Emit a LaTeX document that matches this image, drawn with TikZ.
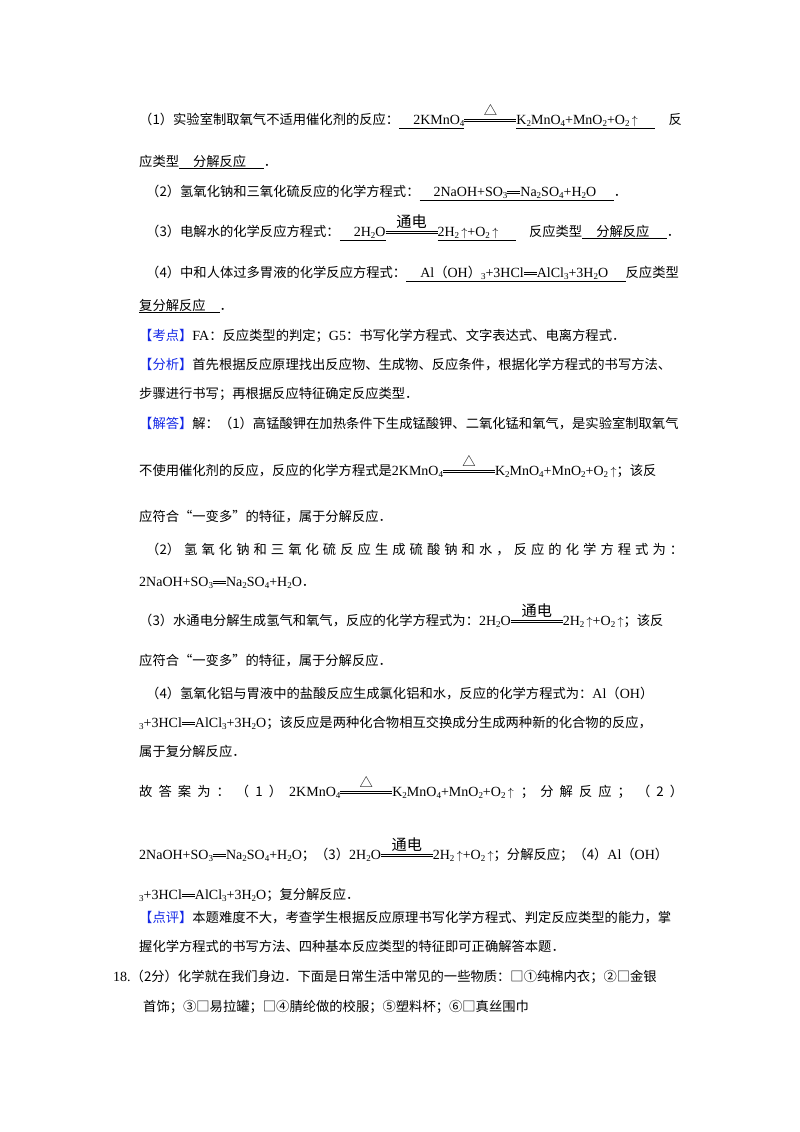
\documentclass[tikz,border=0pt]{standalone}
\usepackage{fontspec}
\setmainfont{Liberation Serif}
\newfontfamily\cjk{Noto Sans CJK SC}[Scale=0.95]
\XeTeXlinebreaklocale "zh"
\XeTeXlinebreakskip=0pt plus 2pt
\definecolor{kblue}{RGB}{20,40,230}
\newcommand\zh[1]{{\cjk #1}}
\newcommand\sbs[1]{\raisebox{-2.5pt}{\fontsize{9}{9}\selectfont #1}}
\newcommand\upar{\,\raisebox{0pt}{\fontsize{12}{12}\selectfont$\uparrow$}}
\newcommand\cnd[2]{\makebox[#2][l]{\rlap{\raisebox{2.2pt}{\rule{#2}{0.6pt}}}\rlap{\raisebox{4.6pt}{\rule{#2}{0.6pt}}}\raisebox{9pt}{\makebox[#2]{#1}}}}
\newcommand\eqs{\rlap{\raisebox{2.2pt}{\rule{13pt}{0.6pt}}}\raisebox{4.6pt}{\rule{13pt}{0.6pt}}}
\newcommand\tri{\zh{△}}
\newcommand\td{\zh{\fontsize{16}{16}\selectfont 通电}}
\newcommand\ans[1]{\underline{\hbox{\quad #1\quad\ }}}
\newcommand\kw[1]{\textcolor{kblue}{\zh{【#1】}}}
\tikzset{ln/.style={anchor=base west,inner sep=0pt,font=\fontsize{14}{14}\selectfont}}
\begin{document}
\begin{tikzpicture}[x=1pt,y=-1pt]
\useasboundingbox (0,0) rectangle (800,1132);
\node[ln] (l1) at (139,124) {\zh{（1）实验室制取氧气不适用催化剂的反应：}\underline{\hbox{\quad 2KMnO\sbs{4}}}\cnd{\tri}{52pt}\underline{\hbox{K\sbs{2}MnO\sbs{4}+MnO\sbs{2}+O\sbs{2}\upar\quad\ }}\zh{　反}};
\node[ln] (l2) at (139,166) {\zh{应类型}\ans{\zh{分解反应}}\zh{．}};
\node[ln] (l3) at (146,196) {\zh{（2）氢氧化钠和三氧化硫反应的化学方程式：}\ans{2NaOH+SO\sbs{3}\eqs Na\sbs{2}SO\sbs{4}+H\sbs{2}O}\zh{．}};
\node[ln] (l4) at (146,236) {\zh{（3）电解水的化学反应方程式：}\underline{\hbox{\quad 2H\sbs{2}O}}\cnd{\td}{52pt}\underline{\hbox{2H\sbs{2}\upar+O\sbs{2}\upar\quad\ }}\zh{　反应类型}\ans{\zh{分解反应}}\zh{．}};
\node[ln] (l5) at (146,277) {\zh{（4）中和人体过多胃液的化学反应方程式：}\ans{Al\zh{（}OH\zh{）}\sbs{3}+3HCl\eqs AlCl\sbs{3}+3H\sbs{2}O}\zh{反应类型}};
\node[ln] (l6) at (139,310) {\underline{\hbox{\zh{复分解反应}\quad}}\zh{．}};
\node[ln] (l7) at (139,340) {\kw{考点}FA\zh{：反应类型的判定；}G5\zh{：书写化学方程式、文字表达式、电离方程式．}};
\node[ln] (l8) at (139,369) {\makebox[544pt][s]{\kw{分析}\zh{首先根据反应原理找出反应物、生成物、反应条件，根据化学方程式的书写方法、}}};
\node[ln] (l9) at (139,398) {\zh{步骤进行书写；再根据反应特征确定反应类型．}};
\node[ln] (l10) at (139,428) {\makebox[544pt][s]{\kw{解答}\zh{解：（1）高锰酸钾在加热条件下生成锰酸钾、二氧化锰和氧气，是实验室制取氧气}}};
\node[ln] (l11) at (139,475) {\zh{不使用催化剂的反应，反应的化学方程式是}2KMnO\sbs{4}\cnd{\tri}{52pt}K\sbs{2}MnO\sbs{4}+MnO\sbs{2}+O\sbs{2}\upar\zh{；该反}};
\node[ln] (l12) at (139,521) {\zh{应符合“一变多”的特征，属于分解反应．}};
\node[ln] (l13) at (146,554) {\makebox[537pt][s]{\zh{（2） 氢 氧 化 钠 和 三 氧 化 硫 反 应 生 成 硫 酸 钠 和 水 ， 反 应 的 化 学 方 程 式 为 ：}}};
\node[ln] (l14) at (139,586) {2NaOH+SO\sbs{3}\eqs Na\sbs{2}SO\sbs{4}+H\sbs{2}O\zh{．}};
\node[ln] (l15) at (139,625) {\zh{（3）水通电分解生成氢气和氧气，反应的化学方程式为：}2H\sbs{2}O\cnd{\td}{52pt}2H\sbs{2}\upar+O\sbs{2}\upar\zh{；该反}};
\node[ln] (l16) at (139,665) {\zh{应符合“一变多”的特征，属于分解反应．}};
\node[ln] (l17) at (146,698) {\makebox[537pt][s]{\zh{（4）氢氧化铝与胃液中的盐酸反应生成氯化铝和水，反应的化学方程式为：}Al\zh{（}OH\zh{）}}};
\node[ln] (l18) at (139,727) {\makebox[544pt][s]{\sbs{3}+3HCl\eqs AlCl\sbs{3}+3H\sbs{2}O\zh{；该反应是两种化合物相互交换成分生成两种新的化合物的反应，}}};
\node[ln] (l19) at (139,756) {\zh{属于复分解反应．}};
\node[ln] (l20) at (139,796) {\makebox[544pt][s]{\zh{故 答 案 为 ： （ 1 ）}\ 2KMnO\sbs{4}\cnd{\tri}{52pt}K\sbs{2}MnO\sbs{4}+MnO\sbs{2}+O\sbs{2}\upar\ \zh{； 分 解 反 应 ； （ 2 ）}}};
\node[ln] (l21) at (139,859) {\makebox[544pt][s]{2NaOH+SO\sbs{3}\eqs Na\sbs{2}SO\sbs{4}+H\sbs{2}O\zh{；（3）}2H\sbs{2}O\cnd{\td}{52pt}2H\sbs{2}\upar+O\sbs{2}\upar\zh{；分解反应；（4）}Al\zh{（}OH\zh{）}}};
\node[ln] (l22) at (139,899) {\sbs{3}+3HCl\eqs AlCl\sbs{3}+3H\sbs{2}O\zh{；复分解反应．}};
\node[ln] (l23) at (139,922) {\makebox[544pt][s]{\kw{点评}\zh{本题难度不大，考查学生根据反应原理书写化学方程式、判定反应类型的能力，掌}}};
\node[ln] (l24) at (139,951) {\zh{握化学方程式的书写方法、四种基本反应类型的特征即可正确解答本题．}};
\node[ln] (l25) at (113,981) {\makebox[570pt][s]{18.\zh{（2分）化学就在我们身边．下面是日常生活中常见的一些物质：□①纯棉内衣；②□金银}}};
\node[ln] (l26) at (143,1011) {\zh{首饰；③□易拉罐；□④腈纶做的校服；⑤塑料杯；⑥□真丝围巾}};
\end{tikzpicture}
\end{document}
